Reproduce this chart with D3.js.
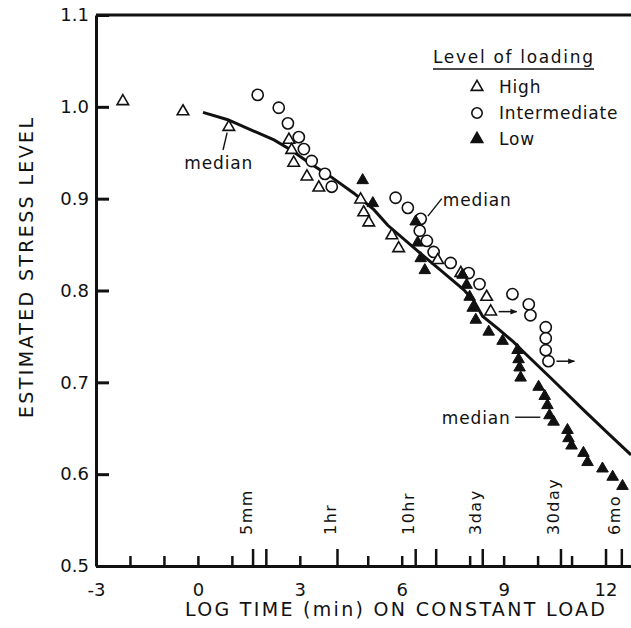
<!DOCTYPE html>
<html>
<head>
<meta charset="utf-8">
<script src="https://cdnjs.cloudflare.com/ajax/libs/d3/7.8.5/d3.min.js"></script>
<style>
  body { margin: 0; background: #fff; }
  text { font-family: "DejaVu Sans", sans-serif; fill: #111; }
</style>
</head>
<body>
<div id="chart"></div>
<script>
// Values: x = log time (min), y = estimated stress level
var highX = [-2.21, -0.44, 0.91, 2.68, 2.76, 2.82, 3.21, 3.56, 4.79, 4.88, 5.03, 5.71, 5.91, 7.06, 7.74, 8.50, 8.62];
var highY = [1.006, 0.995, 0.978, 0.964, 0.953, 0.939, 0.924, 0.912, 0.899, 0.885, 0.874, 0.860, 0.846, 0.833, 0.819, 0.793, 0.777];

var interX = [1.76, 2.38, 2.65, 2.97, 3.12, 3.35, 3.74, 3.94, 5.82, 6.18, 6.56, 6.53, 6.74, 6.94, 7.44, 7.97, 8.29, 9.26, 9.74, 9.79, 10.24, 10.24, 10.24, 10.32];
var interY = [1.013, 0.999, 0.982, 0.967, 0.954, 0.941, 0.927, 0.913, 0.901, 0.890, 0.878, 0.865, 0.854, 0.842, 0.830, 0.819, 0.807, 0.796, 0.785, 0.773, 0.760, 0.748, 0.735, 0.723];

var lowX = [4.85, 5.15, 6.41, 6.47, 6.56, 6.68, 7.79, 7.91, 8.00, 8.09, 8.18, 8.56, 8.97, 9.41, 9.44, 9.47, 9.50, 10.03, 10.21, 10.29, 10.35, 10.47, 10.88, 10.91, 11.00, 11.35, 11.47, 11.91, 12.21, 12.50];
var lowY = [0.920, 0.895, 0.875, 0.852, 0.835, 0.822, 0.817, 0.806, 0.793, 0.781, 0.768, 0.755, 0.745, 0.735, 0.725, 0.716, 0.705, 0.695, 0.685, 0.675, 0.664, 0.657, 0.648, 0.639, 0.631, 0.623, 0.613, 0.606, 0.597, 0.587];

// median curve
var medX = [0.15, 0.88, 1.56, 2.24, 2.74, 3.24, 3.91, 4.59, 5.18, 5.59, 6.50, 7.15, 7.82, 8.12, 8.38, 8.85, 9.29, 9.59, 10.38, 11.35, 12.06, 12.75];
var medY = [0.994, 0.986, 0.975, 0.964, 0.953, 0.940, 0.924, 0.906, 0.888, 0.871, 0.842, 0.822, 0.801, 0.789, 0.772, 0.758, 0.744, 0.733, 0.705, 0.670, 0.645, 0.621];

// points still running (arrows)
var arrowX = [8.62, 10.32];
var arrowY = [0.777, 0.723];

// axis ticks
var yTicks = [0.5, 0.6, 0.7, 0.8, 0.9, 1.0, 1.1];
var xLabelTicks = [-3, 0, 3, 6, 9, 12];
var shortTicks = [-2, -1, 0, 1, 3, 5, 6, 8, 9, 10, 11];
var tallTicks = [2, 7, 12];
var timeLabels = ["5mm", "1hr", "10hr", "3day", "30day", "6mo"];
var timeMinutes = [5, 60, 600, 4320, 43200, 259200];

var legendLabels = ["High", "Intermediate", "Low"];

// SVG area
var svgWidth = 631;
var svgHeight = 628;

var svg = d3.select("#chart")
  .append("svg")
  .attr("width", svgWidth)
  .attr("height", svgHeight);

var xScale = d3.scaleLinear().domain([-3, 12.75]).range([96, 631]);
var yScale = d3.scaleLinear().domain([0.5, 1.1]).range([566, 15]);

var ink = "#111";

// top border line
svg.append("line")
  .attr("x1", xScale(-3)).attr("x2", xScale(12.75))
  .attr("y1", yScale(1.1)).attr("y2", yScale(1.1))
  .attr("stroke", ink).attr("stroke-width", 3);

// left axis, ticks pointing inward
var leftAxis = d3.axisLeft(yScale)
  .tickValues(yTicks)
  .tickFormat(d3.format(".1f"))
  .tickSizeInner(-13)
  .tickSizeOuter(0)
  .tickPadding(7);

var yG = svg.append("g")
  .attr("transform", `translate(${xScale(-3)},0)`)
  .call(leftAxis);
yG.select(".domain").attr("stroke", ink).attr("stroke-width", 3);
yG.selectAll(".tick line").attr("stroke", ink).attr("stroke-width", 3);
yG.selectAll(".tick text").attr("font-size", 18).attr("fill", ink)
  .style("font-family", "DejaVu Sans, sans-serif");

// bottom axis with labels
var bottomAxis = d3.axisBottom(xScale)
  .tickValues(xLabelTicks)
  .tickFormat(d => String(d))
  .tickSize(0)
  .tickPadding(17);

var xG = svg.append("g")
  .attr("transform", `translate(0,${yScale(0.5)})`)
  .call(bottomAxis);
xG.select(".domain").attr("stroke", ink).attr("stroke-width", 3);
xG.selectAll(".tick text").attr("font-size", 18).attr("fill", ink)
  .style("font-family", "DejaVu Sans, sans-serif");

// short and tall inward ticks
function tickRow(values, len) {
  var ax = d3.axisBottom(xScale).tickValues(values).tickSizeInner(-len).tickSizeOuter(0).tickFormat("");
  var g = svg.append("g")
    .attr("transform", `translate(0,${yScale(0.5)})`)
    .call(ax);
  g.select(".domain").remove();
  g.selectAll(".tick line").attr("stroke", ink).attr("stroke-width", 2.5);
}
tickRow(shortTicks, 10);
tickRow(tallTicks, 17);
tickRow(timeMinutes.map(m => Math.log(m)), 17);

// time labels, rotated
svg.selectAll(".timeLabel")
  .data(timeLabels)
  .enter().append("text")
    .attr("class", "timeLabel")
    .attr("transform", (d, i) => `translate(${xScale(Math.log(timeMinutes[i])) - 1},535) rotate(-90)`)
    .attr("font-size", 16)
    .attr("letter-spacing", 1.5)
    .text(d => d);

// axis titles
svg.append("text")
  .attr("transform", "translate(33,268) rotate(-90)")
  .attr("text-anchor", "middle")
  .attr("font-size", 19)
  .attr("textLength", 300)
  .attr("lengthAdjust", "spacing")
  .text("ESTIMATED STRESS LEVEL");

svg.append("text")
  .attr("x", 395)
  .attr("y", 616)
  .attr("text-anchor", "middle")
  .attr("font-size", 19)
  .attr("textLength", 420)
  .attr("lengthAdjust", "spacing")
  .text("LOG TIME (min) ON CONSTANT LOAD");

// median line
var medLine = d3.line()
  .x((d, i) => xScale(medX[i]))
  .y((d, i) => yScale(medY[i]));

svg.append("path")
  .attr("d", medLine(medX))
  .attr("fill", "none")
  .attr("stroke", ink)
  .attr("stroke-width", 3);

// arrowhead marker
svg.append("defs").append("marker")
  .attr("id", "arrow")
  .attr("viewBox", "0 0 10 10")
  .attr("refX", 9).attr("refY", 5)
  .attr("markerWidth", 7).attr("markerHeight", 7)
  .attr("markerUnits", "userSpaceOnUse")
  .attr("orient", "auto")
  .append("path")
    .attr("d", "M0,1 L10,5 L0,9 Z")
    .attr("fill", ink);

svg.selectAll(".arrow")
  .data(arrowX)
  .enter().append("line")
    .attr("x1", (d) => xScale(d) + 8)
    .attr("x2", (d) => xScale(d) + 26)
    .attr("y1", (d, i) => yScale(arrowY[i]))
    .attr("y2", (d, i) => yScale(arrowY[i]))
    .attr("stroke", ink)
    .attr("stroke-width", 1.5)
    .attr("marker-end", "url(#arrow)");

var tri = d3.symbol().type(d3.symbolTriangle).size(58);

// intermediate: open circles
svg.selectAll(".inter")
  .data(interX)
  .enter().append("circle")
    .attr("cx", d => xScale(d))
    .attr("cy", (d, i) => yScale(interY[i]))
    .attr("r", 5.6)
    .attr("fill", "#fff")
    .attr("stroke", ink)
    .attr("stroke-width", 1.6);

// high: open triangles
svg.selectAll(".high")
  .data(highX)
  .enter().append("path")
    .attr("d", tri)
    .attr("transform", (d, i) => `translate(${xScale(d)},${yScale(highY[i])})`)
    .attr("fill", "#fff")
    .attr("stroke", ink)
    .attr("stroke-width", 1.6);

// low: filled triangles
svg.selectAll(".low")
  .data(lowX)
  .enter().append("path")
    .attr("d", tri)
    .attr("transform", (d, i) => `translate(${xScale(d)},${yScale(lowY[i])})`)
    .attr("fill", ink)
    .attr("stroke", ink)
    .attr("stroke-width", 1);

// "median" notes
var notes = [
  {tx: -0.40, ty: 0.932, lx1: 0.86, ly1: 0.972, lx2: 0.74, ly2: 0.953},
  {tx: 7.21, ty: 0.892, lx1: 6.77, ly1: 0.881, lx2: 7.18, ly2: 0.900},
  {tx: 7.18, ty: 0.655, lx1: 9.34, ly1: 0.662, lx2: 10.08, ly2: 0.662}
];
notes.forEach(function(n) {
  svg.append("text")
    .attr("x", xScale(n.tx))
    .attr("y", yScale(n.ty))
    .attr("font-size", 17)
    .attr("textLength", 68)
    .attr("lengthAdjust", "spacing")
    .text("median");
  svg.append("line")
    .attr("x1", xScale(n.lx1)).attr("y1", yScale(n.ly1))
    .attr("x2", xScale(n.lx2)).attr("y2", yScale(n.ly2))
    .attr("stroke", ink).attr("stroke-width", 1.4);
});

// legend
var legend = svg.append("g");
legend.append("text")
  .attr("x", 433).attr("y", 63)
  .attr("font-size", 17)
  .attr("textLength", 160)
  .attr("lengthAdjust", "spacing")
  .text("Level of loading");
legend.append("line")
  .attr("x1", 433).attr("x2", 594)
  .attr("y1", 69).attr("y2", 69)
  .attr("stroke", ink).attr("stroke-width", 1.5);

legendLabels.forEach(function(lab, i) {
  var cy = 87 + i * 26;
  if (lab === "Intermediate") {
    legend.append("circle").attr("cx", 477).attr("cy", cy)
      .attr("r", 5.2).attr("fill", "#fff").attr("stroke", ink).attr("stroke-width", 1.6);
  } else {
    legend.append("path").attr("d", tri)
      .attr("transform", `translate(477,${cy})`)
      .attr("fill", lab === "Low" ? ink : "#fff")
      .attr("stroke", ink).attr("stroke-width", 1.6);
  }
  legend.append("text")
    .attr("x", 499).attr("y", cy + 6)
    .attr("font-size", 17)
    .attr("letter-spacing", 0.8)
    .text(lab);
});
</script>
</body>
</html>
